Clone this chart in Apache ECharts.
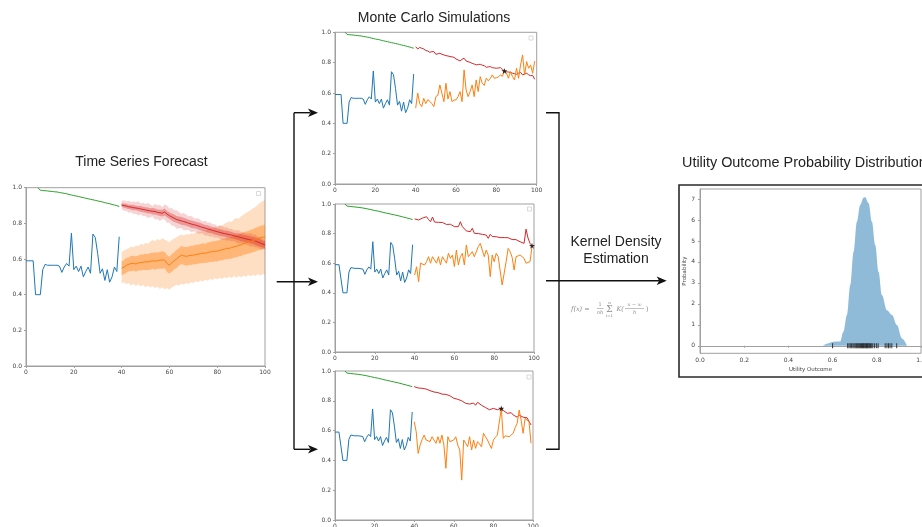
<!DOCTYPE html>
<html>
<head>
<meta charset="utf-8">
<script src="https://cdn.jsdelivr.net/npm/echarts@6/dist/echarts.min.js"></script>
<style>
  html, body { margin: 0; padding: 0; background: #ffffff; }
  #chart { width: 922px; height: 527px; }
</style>
</head>
<body>
<div id="chart"></div>
<script>
// ---------- observed history (t = 0..39) ----------
const historyStart = 0;
const historyValues = [
  0.59, 0.59, 0.59, 0.59, 0.40, 0.40, 0.40, 0.54, 0.57, 0.565,
  0.565, 0.565, 0.565, 0.565, 0.56, 0.525, 0.555, 0.575, 0.56, 0.745,
  0.54, 0.56, 0.53, 0.56, 0.50, 0.53, 0.555, 0.52, 0.74, 0.72,
  0.63, 0.52, 0.545, 0.48, 0.54, 0.47, 0.50, 0.555, 0.53, 0.725
];

// ---------- reference trend (t = 5..39) ----------
const trendStart = 5;
const trendValues = [
  1.0, 0.986, 0.984, 0.983, 0.982, 0.980, 0.979, 0.977, 0.976, 0.973,
  0.971, 0.968, 0.966, 0.962, 0.959, 0.956, 0.953, 0.951, 0.947, 0.944,
  0.941, 0.938, 0.935, 0.932, 0.929, 0.926, 0.923, 0.920, 0.916, 0.913,
  0.910, 0.906, 0.903, 0.899, 0.895
];

// ---------- forecast (t = 40..100) ----------
const forecastStart = 40;
const upperForecast = [
  0.903, 0.900, 0.897, 0.893, 0.891, 0.888, 0.886, 0.884, 0.881, 0.878,
  0.875, 0.872, 0.870, 0.868, 0.866, 0.862, 0.859, 0.857, 0.864, 0.852,
  0.843, 0.836, 0.829, 0.822, 0.818, 0.814, 0.810, 0.806, 0.801, 0.797,
  0.793, 0.790, 0.786, 0.781, 0.777, 0.773, 0.769, 0.765, 0.761, 0.757,
  0.753, 0.750, 0.746, 0.743, 0.740, 0.737, 0.734, 0.731, 0.727, 0.724,
  0.720, 0.717, 0.713, 0.710, 0.707, 0.704, 0.700, 0.695, 0.690, 0.684, 0.679
];
const upperInnerSpread = [
  0.010, 0.012, 0.013, 0.012, 0.014, 0.015, 0.013, 0.014, 0.016, 0.015,
  0.016, 0.017, 0.015, 0.018, 0.017, 0.016, 0.018, 0.019, 0.020, 0.018,
  0.019, 0.020, 0.021, 0.019, 0.020, 0.022, 0.021, 0.020, 0.019, 0.021,
  0.020, 0.019, 0.020, 0.021, 0.019, 0.018, 0.020, 0.019, 0.018, 0.019,
  0.018, 0.019, 0.018, 0.017, 0.018, 0.019, 0.018, 0.017, 0.018, 0.019,
  0.020, 0.019, 0.021, 0.020, 0.019, 0.020, 0.021, 0.022, 0.021, 0.020, 0.019
];
const upperOuterSpread = [
  0.022, 0.030, 0.026, 0.034, 0.028, 0.036, 0.032, 0.040, 0.030, 0.038,
  0.034, 0.042, 0.036, 0.030, 0.044, 0.038, 0.046, 0.034, 0.042, 0.048,
  0.040, 0.050, 0.044, 0.052, 0.046, 0.040, 0.048, 0.044, 0.038, 0.046,
  0.040, 0.036, 0.044, 0.038, 0.034, 0.042, 0.036, 0.040, 0.034, 0.038,
  0.032, 0.036, 0.040, 0.034, 0.038, 0.032, 0.036, 0.030, 0.034, 0.038,
  0.032, 0.036, 0.030, 0.034, 0.038, 0.032, 0.036, 0.030, 0.034, 0.030, 0.026
];
const lowerForecast = [
  0.548, 0.555, 0.565, 0.570, 0.575, 0.576, 0.572, 0.578, 0.580, 0.582,
  0.585, 0.583, 0.587, 0.590, 0.588, 0.591, 0.593, 0.595, 0.594, 0.575,
  0.566, 0.578, 0.590, 0.600, 0.612, 0.622, 0.618, 0.615, 0.618, 0.620,
  0.622, 0.625, 0.627, 0.630, 0.633, 0.632, 0.636, 0.640, 0.641, 0.643,
  0.645, 0.648, 0.652, 0.655, 0.660, 0.660, 0.664, 0.668, 0.672, 0.676,
  0.680, 0.686, 0.690, 0.694, 0.698, 0.703, 0.708, 0.714, 0.718, 0.722, 0.725
];
const lowerInnerSpread = [
  0.038, 0.040, 0.042, 0.039, 0.043, 0.041, 0.044, 0.042, 0.045, 0.043,
  0.046, 0.044, 0.047, 0.045, 0.048, 0.046, 0.047, 0.049, 0.046, 0.048,
  0.047, 0.050, 0.048, 0.051, 0.049, 0.052, 0.050, 0.053, 0.051, 0.054,
  0.052, 0.055, 0.053, 0.054, 0.056, 0.053, 0.057, 0.055, 0.058, 0.056,
  0.059, 0.057, 0.060, 0.058, 0.061, 0.059, 0.062, 0.060, 0.063, 0.061,
  0.064, 0.062, 0.065, 0.063, 0.066, 0.064, 0.067, 0.065, 0.068, 0.066, 0.068
];
const lowerOuterTop = [
  0.640, 0.648, 0.655, 0.660, 0.670, 0.665, 0.676, 0.672, 0.684, 0.680,
  0.690, 0.686, 0.698, 0.706, 0.700, 0.712, 0.705, 0.716, 0.710, 0.702,
  0.694, 0.706, 0.715, 0.722, 0.730, 0.738, 0.732, 0.740, 0.736, 0.745,
  0.742, 0.750, 0.756, 0.752, 0.762, 0.758, 0.768, 0.775, 0.770, 0.782,
  0.778, 0.790, 0.786, 0.798, 0.804, 0.812, 0.808, 0.822, 0.830, 0.826,
  0.840, 0.848, 0.858, 0.866, 0.874, 0.885, 0.892, 0.905, 0.915, 0.925, 0.930
];
const lowerOuterBottom = [
  0.462, 0.470, 0.458, 0.466, 0.452, 0.462, 0.448, 0.458, 0.446, 0.455,
  0.442, 0.452, 0.440, 0.448, 0.436, 0.446, 0.432, 0.442, 0.430, 0.438,
  0.428, 0.440, 0.448, 0.456, 0.452, 0.462, 0.456, 0.466, 0.460, 0.470,
  0.466, 0.476, 0.470, 0.480, 0.474, 0.484, 0.478, 0.488, 0.482, 0.492,
  0.486, 0.495, 0.488, 0.498, 0.492, 0.500, 0.494, 0.503, 0.496, 0.505,
  0.498, 0.507, 0.500, 0.510, 0.503, 0.512, 0.505, 0.514, 0.508, 0.516, 0.512
];

// ---------- simulated paths (t = 40..99) ----------
const simStart = 40;
const simUpper1 = [
  0.905, 0.890, 0.900, 0.895, 0.890, 0.880, 0.877, 0.868, 0.872, 0.873,
  0.855, 0.858, 0.862, 0.855, 0.851, 0.846, 0.844, 0.840, 0.838, 0.835,
  0.824, 0.818, 0.811, 0.822, 0.829, 0.811, 0.806, 0.802, 0.795, 0.791,
  0.785, 0.788, 0.789, 0.783, 0.780, 0.769, 0.772, 0.774, 0.767, 0.765,
  0.763, 0.765, 0.767, 0.755, 0.745, 0.740, 0.738, 0.736, 0.730, 0.727,
  0.723, 0.730, 0.736, 0.719, 0.725, 0.730, 0.720, 0.714, 0.716, 0.690
];
const simLower1 = [
  0.500, 0.600, 0.530, 0.510, 0.565, 0.530, 0.556, 0.545, 0.530, 0.510,
  0.576, 0.585, 0.653, 0.598, 0.543, 0.664, 0.560, 0.609, 0.543, 0.554,
  0.554, 0.576, 0.609, 0.543, 0.752, 0.620, 0.576, 0.609, 0.653, 0.576,
  0.686, 0.609, 0.708, 0.664, 0.650, 0.697, 0.680, 0.697, 0.719, 0.697,
  0.700, 0.705, 0.719, 0.710, 0.748, 0.730, 0.697, 0.741, 0.708, 0.686,
  0.763, 0.697, 0.785, 0.851, 0.719, 0.807, 0.763, 0.785, 0.730, 0.810
];
const simUpper2 = [
  0.899, 0.906, 0.892, 0.899, 0.905, 0.899, 0.914, 0.895, 0.880, 0.912,
  0.878, 0.884, 0.876, 0.869, 0.875, 0.880, 0.862, 0.858, 0.863, 0.852,
  0.847, 0.836, 0.847, 0.880, 0.847, 0.836, 0.818, 0.822, 0.813, 0.836,
  0.802, 0.790, 0.800, 0.808, 0.795, 0.792, 0.790, 0.768, 0.795, 0.780,
  0.768, 0.779, 0.776, 0.773, 0.770, 0.773, 0.779, 0.772, 0.768, 0.760,
  0.757, 0.759, 0.757, 0.745, 0.740, 0.734, 0.830, 0.770, 0.734, 0.718
];
const simLower2 = [
  0.520, 0.576, 0.475, 0.600, 0.610, 0.588, 0.610, 0.644, 0.600, 0.644,
  0.622, 0.600, 0.644, 0.588, 0.644, 0.622, 0.600, 0.667, 0.633, 0.655,
  0.577, 0.689, 0.588, 0.644, 0.667, 0.588, 0.723, 0.644, 0.633, 0.678,
  0.644, 0.655, 0.712, 0.734, 0.689, 0.644, 0.689, 0.655, 0.509, 0.655,
  0.610, 0.667, 0.644, 0.655, 0.453, 0.453, 0.610, 0.700, 0.678, 0.640,
  0.554, 0.644, 0.633, 0.655, 0.660, 0.633, 0.600, 0.588, 0.610, 0.712
];
const simUpper3 = [
  0.895, 0.884, 0.886, 0.879, 0.884, 0.882, 0.879, 0.875, 0.868, 0.857,
  0.859, 0.861, 0.855, 0.850, 0.845, 0.839, 0.843, 0.838, 0.834, 0.824,
  0.817, 0.805, 0.810, 0.812, 0.800, 0.794, 0.783, 0.780, 0.778, 0.790,
  0.785, 0.770, 0.790, 0.780, 0.770, 0.761, 0.755, 0.749, 0.740, 0.745,
  0.749, 0.744, 0.740, 0.749, 0.750, 0.735, 0.727, 0.716, 0.727, 0.720,
  0.705, 0.698, 0.690, 0.705, 0.698, 0.690, 0.690, 0.686, 0.682, 0.638
];
const simLower3 = [
  0.660, 0.593, 0.447, 0.503, 0.540, 0.570, 0.537, 0.550, 0.526, 0.559,
  0.537, 0.515, 0.559, 0.515, 0.570, 0.503, 0.347, 0.559, 0.526, 0.515,
  0.537, 0.559, 0.503, 0.470, 0.268, 0.537, 0.515, 0.492, 0.559, 0.470,
  0.537, 0.481, 0.526, 0.515, 0.492, 0.582, 0.559, 0.537, 0.545, 0.480,
  0.537, 0.555, 0.570, 0.582, 0.749, 0.548, 0.565, 0.570, 0.559, 0.570,
  0.582, 0.620, 0.649, 0.738, 0.671, 0.582, 0.682, 0.682, 0.660, 0.515
];
// first meeting point of the two paths in each run
const meetPoint1 = [84, 0.745];
const meetPoint2 = [99, 0.718];
const meetPoint3 = [84, 0.749];

// ---------- density estimate of final outcomes ----------
const kdeX = [0.556, 0.575, 0.604, 0.634, 0.649, 0.665, 0.680, 0.695, 0.710, 0.725, 0.740,
              0.747, 0.763, 0.778, 0.793, 0.808, 0.823, 0.846, 0.869, 0.891, 0.914, 0.937];
const kdeY = [0.00, 0.10, 0.19, 0.20, 0.67, 1.47, 2.90, 4.49, 5.92, 6.72, 7.06,
              7.10, 6.80, 5.92, 4.81, 3.53, 2.42, 1.70, 1.47, 0.99, 0.35, 0.00];
const finalOutcomes = [0.600, 0.668, 0.674, 0.680, 0.686, 0.692, 0.697, 0.702, 0.707, 0.711,
                       0.715, 0.719, 0.723, 0.727, 0.731, 0.735, 0.739, 0.742, 0.746, 0.750,
                       0.753, 0.757, 0.760, 0.764, 0.768, 0.772, 0.777, 0.782, 0.790, 0.798,
                       0.806, 0.838, 0.846, 0.853, 0.860, 0.868, 0.890];

// ---------- tick labels ----------
const timeTicks = ['0', '20', '40', '60', '80', '100'];
const unitTicks = ['0.0', '0.2', '0.4', '0.6', '0.8', '1.0'];
const outcomeTicks = ['0.0', '0.2', '0.4', '0.6', '0.8', '1.0'];
const densityTickValues = [0, 1, 2, 3, 4, 5, 6, 7];
const densityTicks = ['0', '1', '2', '3', '4', '5', '6', '7'];

// ---------- styling ----------
const C_BLUE = '#1f77b4', C_ORANGE = '#ff7f0e', C_GREEN = '#2ca02c', C_RED = '#d62728';
const SPINE = '#a0a0a0';
const TICK_FONT = { fontSize: 6, color: '#444', fontFamily: 'DejaVu Sans' };
const TITLE_FONT = 'Liberation Sans, Arial, sans-serif';

function pairs(start, arr) { return arr.map((v, i) => [start + i, v]); }

function grid(left, top, right, bottom) {
  return { left, top, right, bottom, show: true, borderColor: SPINE, borderWidth: 1,
           backgroundColor: 'transparent', containLabel: false, outerBoundsMode: 'none' };
}
function timeAxis(gi) {
  return {
    type: 'value', gridIndex: gi, min: 0, max: 100, interval: 20,
    axisLine: { show: true, lineStyle: { color: SPINE, width: 1 } },
    axisTick: { show: true, length: 2, lineStyle: { color: SPINE } },
    axisLabel: Object.assign({ margin: 3, formatter: (v, i) => timeTicks[i] }, TICK_FONT),
    splitLine: { show: false }
  };
}
function unitAxis(gi) {
  return {
    type: 'value', gridIndex: gi, min: 0, max: 1, interval: 0.2,
    axisLine: { show: true, lineStyle: { color: SPINE, width: 1 } },
    axisTick: { show: true, length: 2, lineStyle: { color: SPINE } },
    axisLabel: Object.assign({ margin: 4, formatter: (v, i) => unitTicks[i] }, TICK_FONT),
    splitLine: { show: false }
  };
}
function line(gi, start, arr, color, width) {
  return {
    type: 'line', xAxisIndex: gi, yAxisIndex: gi, data: pairs(start, arr),
    symbol: 'none', lineStyle: { color, width: width || 1 }, silent: true, clip: true, z: 3
  };
}
// shaded band between two bounds
function band(gi, start, lo, hi, color) {
  return {
    type: 'custom', xAxisIndex: gi, yAxisIndex: gi, silent: true, clip: true, z: 2,
    data: [[start, lo[0]]],
    renderItem: function (params, api) {
      const pts = [];
      for (let i = 0; i < hi.length; i++) pts.push(api.coord([start + i, hi[i]]));
      for (let i = lo.length - 1; i >= 0; i--) pts.push(api.coord([start + i, lo[i]]));
      return { type: 'polygon', shape: { points: pts }, style: { fill: color } };
    }
  };
}
const STAR = 'path://M50,0 L61,35 L98,35 L68,57 L79,91 L50,70 L21,91 L32,57 L2,35 L39,35 Z';
function meet(gi, pt) {
  return { type: 'scatter', xAxisIndex: gi, yAxisIndex: gi, data: [pt], symbol: STAR,
           symbolSize: 6, itemStyle: { color: '#000' }, silent: true, z: 5 };
}

const upperInnerLo = upperForecast.map((v, i) => v - upperInnerSpread[i]);
const upperInnerHi = upperForecast.map((v, i) => v + upperInnerSpread[i]);
const upperOuterLo = upperForecast.map((v, i) => v - upperOuterSpread[i]);
const upperOuterHi = upperForecast.map((v, i) => v + upperOuterSpread[i]);
const lowerInnerLo = lowerForecast.map((v, i) => v - lowerInnerSpread[i]);
const lowerInnerHi = lowerForecast.map((v, i) => v + lowerInnerSpread[i]);

const series = [
  // forecast panel
  band(0, forecastStart, lowerOuterBottom, lowerOuterTop, 'rgba(255,127,14,0.25)'),
  band(0, forecastStart, lowerInnerLo, lowerInnerHi, 'rgba(255,127,14,0.42)'),
  band(0, forecastStart, upperOuterLo, upperOuterHi, 'rgba(214,39,40,0.20)'),
  band(0, forecastStart, upperInnerLo, upperInnerHi, 'rgba(214,39,40,0.35)'),
  line(0, historyStart, historyValues, C_BLUE),
  line(0, trendStart, trendValues, C_GREEN),
  line(0, forecastStart, upperForecast, C_RED),
  line(0, forecastStart, lowerForecast, C_ORANGE),
];
const sims = [[simUpper1, simLower1, meetPoint1], [simUpper2, simLower2, meetPoint2], [simUpper3, simLower3, meetPoint3]];
sims.forEach((s, k) => {
  const gi = k + 1;
  series.push(line(gi, historyStart, historyValues, C_BLUE));
  series.push(line(gi, trendStart, trendValues, C_GREEN));
  series.push(line(gi, simStart, s[0], C_RED));
  series.push(line(gi, simStart, s[1], C_ORANGE));
  series.push(meet(gi, s[2]));
});
// density panel
series.push({
  type: 'line', xAxisIndex: 4, yAxisIndex: 4, data: kdeX.map((x, i) => [x, kdeY[i]]),
  symbol: 'none', smooth: 0.35, smoothMonotone: 'x', silent: true,
  lineStyle: { width: 0 }, areaStyle: { color: 'rgba(31,119,180,0.5)', opacity: 1 }, z: 2
});
series.push({
  type: 'scatter', xAxisIndex: 4, yAxisIndex: 4, data: finalOutcomes.map(v => [v, 0]),
  symbol: 'rect', symbolSize: [1, 5], itemStyle: { color: '#111' }, silent: true, z: 4
});

// ---------- diagram decorations ----------
const INK = '#111';
function arrowHead(tipX, y) {
  return { type: 'polygon', shape: { points: [[tipX, y], [tipX - 10, y - 4.2], [tipX - 7.5, y], [tipX - 10, y + 4.2]] },
           style: { fill: INK }, z: 100 };
}
function seg(x1, y1, x2, y2, style) {
  return { type: 'line', shape: { x1, y1, x2, y2 }, style: style || { stroke: INK, lineWidth: 1.4 }, z: 100 };
}
function txt(x, y, text, size, opts) {
  return { type: 'text', x, y, z: 100, style: Object.assign({
    text, fontSize: size, fill: '#222', fontFamily: TITLE_FONT, align: 'center', verticalAlign: 'middle'
  }, opts || {}) };
}
function legendBox(x, y) {
  return { type: 'rect', shape: { x, y, width: 4, height: 4 }, style: { fill: '#fff', stroke: '#d0d0d0', lineWidth: 0.8 }, z: 50 };
}
const FORM = { fill: '#8a8a8a', fontFamily: 'DejaVu Serif, Liberation Serif, serif' };
const RULE = { stroke: '#9a9a9a', lineWidth: 0.6 };

const graphic = [
  txt(141.5, 162, 'Time Series Forecast', 14),
  txt(434, 18, 'Monte Carlo Simulations', 14),
  txt(682, 163, 'Utility Outcome Probability Distribution', 14.4, { align: 'left' }),
  // fan-out arrows
  seg(276.7, 281.7, 310, 281.7),
  seg(294, 112.7, 294, 449.3),
  seg(294, 112.7, 310, 112.7),
  seg(294, 449.3, 310, 449.3),
  arrowHead(318, 112.7), arrowHead(318, 281.7), arrowHead(318, 449.3),
  // collecting bracket and arrow into the density panel
  { type: 'polyline', shape: { points: [[546, 112.7], [559, 112.7], [559, 449.3], [546, 449.3]] },
    style: { stroke: INK, lineWidth: 1.4, fill: null }, z: 100 },
  seg(546, 280.7, 659, 280.7),
  arrowHead(666.7, 280.7),
  txt(616, 242, 'Kernel Density', 14),
  txt(616, 259, 'Estimation', 14),
  // kernel density formula
  txt(571, 309, 'f(x) =', 6.5, Object.assign({ align: 'left', fontStyle: 'italic' }, FORM)),
  txt(600, 305, '1', 5, FORM),
  seg(597, 308.5, 603.5, 308.5, RULE),
  txt(600, 312.5, 'nh', 5, Object.assign({ fontStyle: 'italic' }, FORM)),
  txt(609.5, 309.5, 'Σ', 9, FORM),
  txt(609.5, 302.5, 'n', 4, FORM),
  txt(609.5, 316, 'i=1', 4, FORM),
  txt(616.5, 309, 'K(', 6.5, Object.assign({ align: 'left', fontStyle: 'italic' }, FORM)),
  txt(634.5, 305, 'x − xᵢ', 5, Object.assign({ fontStyle: 'italic' }, FORM)),
  seg(625, 308.5, 644, 308.5, RULE),
  txt(634.5, 312.5, 'h', 5, Object.assign({ fontStyle: 'italic' }, FORM)),
  txt(646, 309, ')', 6.5, Object.assign({ align: 'left' }, FORM)),
  // density panel frame
  { type: 'rect', shape: { x: 679, y: 185, width: 260, height: 192 }, style: { fill: null, stroke: '#2a2a2a', lineWidth: 1.6 }, z: 100 },
  // empty legend boxes
  legendBox(256.5, 191.5), legendBox(529, 36), legendBox(527.5, 207), legendBox(527, 375)
];

const option = {
  animation: false,
  backgroundColor: '#ffffff',
  grid: [
    grid(26, 187.7, 657, 161),
    grid(335, 32.3, 385.3, 343),
    grid(335, 204, 388, 175),
    grid(335, 371, 389, 7),
    grid(700, 189, 1, 173.7)
  ],
  xAxis: [
    timeAxis(0), timeAxis(1), timeAxis(2), timeAxis(3),
    {
      type: 'value', gridIndex: 4, min: 0, max: 1, interval: 0.2,
      name: 'Utility Outcome', nameLocation: 'middle', nameGap: 13,
      nameTextStyle: { fontSize: 5.5, color: '#444', fontFamily: 'DejaVu Sans' },
      axisLine: { show: true, lineStyle: { color: SPINE, width: 1 } },
      axisTick: { show: true, length: 2, lineStyle: { color: SPINE } },
      axisLabel: Object.assign({ margin: 4, showMaxLabel: true, formatter: (v, i) => outcomeTicks[i] }, TICK_FONT),
      splitLine: { show: false }
    }
  ],
  yAxis: [
    unitAxis(0), unitAxis(1), unitAxis(2), unitAxis(3),
    {
      type: 'value', gridIndex: 4, min: -0.36, max: 7.48,
      name: 'Probability', nameLocation: 'middle', nameGap: 12, nameRotate: 90,
      nameTextStyle: { fontSize: 5.5, color: '#444', fontFamily: 'DejaVu Sans' },
      axisLine: { show: true, lineStyle: { color: SPINE, width: 1 } },
      axisTick: { show: true, length: 2, customValues: densityTickValues, lineStyle: { color: SPINE } },
      axisLabel: Object.assign({ margin: 5, customValues: densityTickValues,
        formatter: v => densityTicks[densityTickValues.indexOf(Math.round(v))] }, TICK_FONT),
      splitLine: { show: false }
    }
  ],
  series,
  graphic
};

const chart = echarts.init(document.getElementById('chart'), null, { renderer: 'canvas' });
chart.setOption(option);
</script>
</body>
</html>
